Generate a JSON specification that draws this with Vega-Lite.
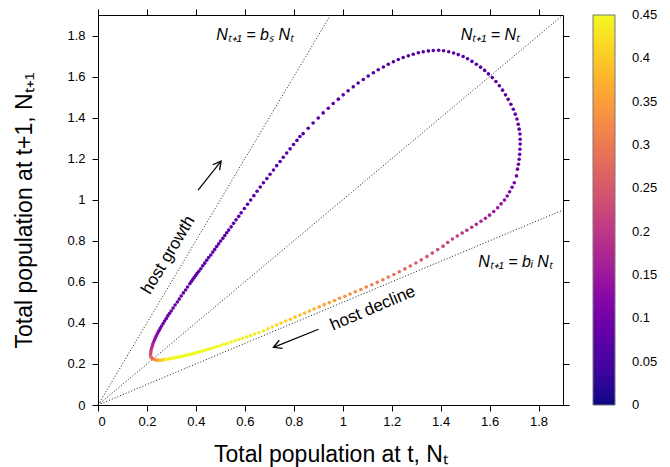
{
  "$schema": "https://vega.github.io/schema/vega-lite/v6.json",
  "width": 465,
  "height": 390,
  "autosize": {"type": "none"},
  "padding": {"left": 98, "top": 15, "right": 107, "bottom": 62},
  "background": "white",
  "config": {
    "font": "Liberation Sans",
    "view": {"stroke": "black", "strokeWidth": 1},
    "axis": {
      "labelFont": "Liberation Sans", "labelFontSize": 13, "labelColor": "black",
      "titleFont": "Liberation Sans", "titleFontSize": 23, "titleFontWeight": "normal", "titleColor": "black",
      "tickColor": "black", "tickSize": 6, "tickWidth": 1, "domainColor": "black", "grid": false, "labelPadding": 4
    }
  },
  "datasets": {
    "lines": [
      {"x": 0, "y": 0, "x2": 0.95, "y2": 1.9},
      {"x": 0, "y": 0, "x2": 1.9, "y2": 1.9},
      {"x": 0, "y": 0, "x2": 1.9, "y2": 0.95}
    ],
    "labels": [
      {"x": 0.642, "y": 1.802, "t": "Nₜ₊₁ = bₛ Nₜ"},
      {"x": 1.603, "y": 1.802, "t": "Nₜ₊₁ = Nₜ"},
      {"x": 1.706, "y": 0.698, "t": "Nₜ₊₁ = bᵢ Nₜ"}
    ],
    "curve": [
      {"x":0.215,"y":0.239,"c":0.26},{"x":0.215,"y":0.248,"c":0.24},{"x":0.216,"y":0.258,"c":0.225},{"x":0.217,"y":0.268,"c":0.21},
      {"x":0.219,"y":0.278,"c":0.195},{"x":0.222,"y":0.287,"c":0.18},{"x":0.224,"y":0.297,"c":0.168},{"x":0.227,"y":0.307,"c":0.157},
      {"x":0.231,"y":0.317,"c":0.147},{"x":0.234,"y":0.326,"c":0.138},{"x":0.238,"y":0.336,"c":0.13},{"x":0.242,"y":0.346,"c":0.123},
      {"x":0.246,"y":0.356,"c":0.117},{"x":0.251,"y":0.365,"c":0.112},{"x":0.255,"y":0.375,"c":0.107},{"x":0.260,"y":0.385,"c":0.103},
      {"x":0.266,"y":0.397,"c":0.099},{"x":0.272,"y":0.409,"c":0.096},{"x":0.279,"y":0.421,"c":0.093},{"x":0.285,"y":0.434,"c":0.091},
      {"x":0.292,"y":0.446,"c":0.090},{"x":0.299,"y":0.458,"c":0.089},{"x":0.307,"y":0.472,"c":0.088},{"x":0.315,"y":0.487,"c":0.087},
      {"x":0.324,"y":0.502,"c":0.086},{"x":0.332,"y":0.516,"c":0.085},{"x":0.340,"y":0.531,"c":0.084},{"x":0.349,"y":0.546,"c":0.083},
      {"x":0.358,"y":0.560,"c":0.082},{"x":0.366,"y":0.575,"c":0.081},
      {"x":0.375,"y":0.591,"c":0.080},{"x":0.381,"y":0.601,"c":0.080},{"x":0.387,"y":0.611,"c":0.079},{"x":0.393,"y":0.621,"c":0.079},
      {"x":0.399,"y":0.631,"c":0.079},{"x":0.405,"y":0.641,"c":0.078},{"x":0.412,"y":0.651,"c":0.078},{"x":0.420,"y":0.664,"c":0.078},
      {"x":0.428,"y":0.678,"c":0.077},{"x":0.436,"y":0.691,"c":0.077},{"x":0.444,"y":0.705,"c":0.077},{"x":0.452,"y":0.718,"c":0.076},
      {"x":0.461,"y":0.731,"c":0.076},{"x":0.469,"y":0.745,"c":0.076},{"x":0.477,"y":0.758,"c":0.076},{"x":0.485,"y":0.772,"c":0.075},
      {"x":0.493,"y":0.785,"c":0.075},{"x":0.501,"y":0.799,"c":0.075},{"x":0.510,"y":0.812,"c":0.075},{"x":0.518,"y":0.826,"c":0.074},
      {"x":0.526,"y":0.839,"c":0.074},{"x":0.534,"y":0.852,"c":0.074},{"x":0.544,"y":0.868,"c":0.074},{"x":0.554,"y":0.885,"c":0.073},
      {"x":0.564,"y":0.902,"c":0.073},{"x":0.575,"y":0.919,"c":0.073},
      {"x":0.585,"y":0.936,"c":0.073},{"x":0.598,"y":0.957,"c":0.072},{"x":0.611,"y":0.978,"c":0.072},{"x":0.624,"y":0.999,"c":0.072},
      {"x":0.637,"y":1.020,"c":0.072},{"x":0.650,"y":1.041,"c":0.071},{"x":0.663,"y":1.062,"c":0.071},{"x":0.676,"y":1.083,"c":0.071},
      {"x":0.690,"y":1.103,"c":0.071},{"x":0.703,"y":1.124,"c":0.070},{"x":0.717,"y":1.145,"c":0.070},{"x":0.730,"y":1.166,"c":0.070},
      {"x":0.744,"y":1.186,"c":0.070},{"x":0.757,"y":1.207,"c":0.070},{"x":0.771,"y":1.228,"c":0.069},{"x":0.785,"y":1.248,"c":0.069},
      {"x":0.799,"y":1.269,"c":0.069},{"x":0.813,"y":1.289,"c":0.069},{"x":0.825,"y":1.308,"c":0.069},
      {"x":0.838,"y":1.322,"c":0.069},{"x":0.859,"y":1.348,"c":0.069},{"x":0.879,"y":1.374,"c":0.068},{"x":0.900,"y":1.398,"c":0.068},
      {"x":0.920,"y":1.423,"c":0.068},{"x":0.941,"y":1.446,"c":0.068},{"x":0.961,"y":1.469,"c":0.067},{"x":0.982,"y":1.490,"c":0.067},
      {"x":1.002,"y":1.511,"c":0.067},{"x":1.022,"y":1.531,"c":0.067},{"x":1.043,"y":1.550,"c":0.066},{"x":1.063,"y":1.569,"c":0.066},
      {"x":1.084,"y":1.586,"c":0.066},{"x":1.104,"y":1.603,"c":0.066},{"x":1.125,"y":1.619,"c":0.065},{"x":1.145,"y":1.633,"c":0.065},
      {"x":1.166,"y":1.647,"c":0.065},{"x":1.186,"y":1.660,"c":0.065},{"x":1.207,"y":1.672,"c":0.065},{"x":1.227,"y":1.683,"c":0.064},
      {"x":1.247,"y":1.693,"c":0.064},{"x":1.268,"y":1.701,"c":0.064},{"x":1.288,"y":1.709,"c":0.064},{"x":1.309,"y":1.716,"c":0.064},
      {"x":1.329,"y":1.721,"c":0.064},{"x":1.350,"y":1.725,"c":0.064},{"x":1.370,"y":1.727,"c":0.064},
      {"x":1.392,"y":1.728,"c":0.064},{"x":1.412,"y":1.726,"c":0.064},{"x":1.433,"y":1.721,"c":0.065},{"x":1.453,"y":1.715,"c":0.065},
      {"x":1.472,"y":1.707,"c":0.065},{"x":1.492,"y":1.698,"c":0.066},{"x":1.510,"y":1.687,"c":0.066},{"x":1.528,"y":1.674,"c":0.067},
      {"x":1.546,"y":1.660,"c":0.067},{"x":1.563,"y":1.646,"c":0.068},{"x":1.580,"y":1.630,"c":0.068},{"x":1.595,"y":1.613,"c":0.069},
      {"x":1.611,"y":1.595,"c":0.070},{"x":1.626,"y":1.576,"c":0.071},{"x":1.640,"y":1.555,"c":0.072},{"x":1.653,"y":1.534,"c":0.073},
      {"x":1.665,"y":1.511,"c":0.074},{"x":1.676,"y":1.489,"c":0.075},{"x":1.687,"y":1.465,"c":0.076},{"x":1.697,"y":1.441,"c":0.077},
      {"x":1.705,"y":1.417,"c":0.078},{"x":1.712,"y":1.393,"c":0.079},{"x":1.717,"y":1.368,"c":0.080},{"x":1.721,"y":1.344,"c":0.081},
      {"x":1.724,"y":1.320,"c":0.082},{"x":1.725,"y":1.295,"c":0.084},{"x":1.725,"y":1.271,"c":0.086},
      {"x":1.724,"y":1.246,"c":0.088},{"x":1.723,"y":1.221,"c":0.091},{"x":1.721,"y":1.197,"c":0.094},{"x":1.718,"y":1.173,"c":0.097},
      {"x":1.714,"y":1.149,"c":0.100},{"x":1.710,"y":1.116,"c":0.104},{"x":1.701,"y":1.083,"c":0.109},{"x":1.692,"y":1.061,"c":0.113},
      {"x":1.682,"y":1.039,"c":0.118},{"x":1.672,"y":1.018,"c":0.124},{"x":1.661,"y":0.999,"c":0.130},{"x":1.647,"y":0.980,"c":0.137},
      {"x":1.633,"y":0.961,"c":0.144},{"x":1.617,"y":0.943,"c":0.151},{"x":1.600,"y":0.925,"c":0.158},{"x":1.583,"y":0.910,"c":0.165},
      {"x":1.565,"y":0.895,"c":0.172},{"x":1.546,"y":0.880,"c":0.179},{"x":1.527,"y":0.866,"c":0.186},{"x":1.507,"y":0.851,"c":0.193},
      {"x":1.488,"y":0.838,"c":0.200},{"x":1.468,"y":0.823,"c":0.207},{"x":1.448,"y":0.809,"c":0.214},{"x":1.429,"y":0.792,"c":0.221},
      {"x":1.410,"y":0.774,"c":0.228},
      {"x":1.388,"y":0.757,"c":0.234},{"x":1.366,"y":0.740,"c":0.241},{"x":1.344,"y":0.723,"c":0.248},{"x":1.321,"y":0.707,"c":0.254},
      {"x":1.299,"y":0.692,"c":0.260},{"x":1.276,"y":0.677,"c":0.267},{"x":1.254,"y":0.663,"c":0.274},{"x":1.231,"y":0.649,"c":0.280},
      {"x":1.209,"y":0.636,"c":0.287},{"x":1.186,"y":0.623,"c":0.294},{"x":1.164,"y":0.610,"c":0.300},{"x":1.141,"y":0.598,"c":0.306},
      {"x":1.119,"y":0.586,"c":0.311},{"x":1.096,"y":0.575,"c":0.316},{"x":1.074,"y":0.563,"c":0.322},{"x":1.051,"y":0.552,"c":0.327},
      {"x":1.030,"y":0.541,"c":0.333},{"x":1.009,"y":0.530,"c":0.338},{"x":0.987,"y":0.520,"c":0.343},{"x":0.966,"y":0.509,"c":0.349},
      {"x":0.945,"y":0.499,"c":0.355},{"x":0.924,"y":0.489,"c":0.360},{"x":0.904,"y":0.478,"c":0.366},{"x":0.883,"y":0.468,"c":0.372},
      {"x":0.864,"y":0.458,"c":0.378},{"x":0.844,"y":0.448,"c":0.384},{"x":0.825,"y":0.438,"c":0.390},{"x":0.805,"y":0.428,"c":0.396},
      {"x":0.786,"y":0.418,"c":0.402},{"x":0.767,"y":0.409,"c":0.407},{"x":0.748,"y":0.399,"c":0.412},{"x":0.730,"y":0.390,"c":0.417},
      {"x":0.712,"y":0.380,"c":0.422},{"x":0.694,"y":0.371,"c":0.426},{"x":0.676,"y":0.362,"c":0.430},{"x":0.658,"y":0.353,"c":0.434},
      {"x":0.640,"y":0.346,"c":0.437},{"x":0.623,"y":0.338,"c":0.440},{"x":0.607,"y":0.331,"c":0.442},{"x":0.590,"y":0.325,"c":0.444},
      {"x":0.574,"y":0.319,"c":0.445},{"x":0.559,"y":0.313,"c":0.446},{"x":0.544,"y":0.307,"c":0.447},{"x":0.529,"y":0.301,"c":0.448},
      {"x":0.515,"y":0.296,"c":0.449},{"x":0.501,"y":0.290,"c":0.449},{"x":0.487,"y":0.285,"c":0.45},{"x":0.474,"y":0.280,"c":0.45},
      {"x":0.461,"y":0.275,"c":0.45},{"x":0.449,"y":0.271,"c":0.45},{"x":0.437,"y":0.267,"c":0.45},{"x":0.426,"y":0.263,"c":0.45},
      {"x":0.415,"y":0.259,"c":0.45},{"x":0.404,"y":0.255,"c":0.45},{"x":0.394,"y":0.252,"c":0.45},{"x":0.384,"y":0.249,"c":0.45},
      {"x":0.375,"y":0.246,"c":0.45},{"x":0.366,"y":0.244,"c":0.45},{"x":0.357,"y":0.241,"c":0.45},{"x":0.348,"y":0.239,"c":0.45},
      {"x":0.339,"y":0.236,"c":0.45},{"x":0.330,"y":0.234,"c":0.45},{"x":0.322,"y":0.232,"c":0.45},{"x":0.314,"y":0.230,"c":0.449},
      {"x":0.306,"y":0.228,"c":0.449},{"x":0.299,"y":0.227,"c":0.448},{"x":0.291,"y":0.225,"c":0.447},{"x":0.284,"y":0.223,"c":0.445},
      {"x":0.277,"y":0.222,"c":0.44},{"x":0.270,"y":0.221,"c":0.43},{"x":0.263,"y":0.219,"c":0.415},{"x":0.257,"y":0.218,"c":0.40},
      {"x":0.251,"y":0.218,"c":0.385},{"x":0.245,"y":0.218,"c":0.37},{"x":0.239,"y":0.219,"c":0.355},{"x":0.233,"y":0.220,"c":0.34},
      {"x":0.228,"y":0.223,"c":0.325},{"x":0.223,"y":0.225,"c":0.31},{"x":0.220,"y":0.228,"c":0.295},{"x":0.217,"y":0.232,"c":0.28}
    ]
  },
  "layer": [
    {
      "data": {"name": "lines"},
      "mark": {"type": "rule", "color": "black", "strokeWidth": 0.9, "strokeDash": [1, 2]},
      "encoding": {
        "x": {"field": "x", "type": "quantitative", "scale": {"domain": [0, 1.9], "nice": false, "zero": false},
              "axis": {"orient": "top", "labels": false, "title": null, "domain": false, "values": [0,0.2,0.4,0.6,0.8,1,1.2,1.4,1.6,1.8]}},
        "y": {"field": "y", "type": "quantitative", "scale": {"domain": [0, 1.9], "nice": false, "zero": false},
              "axis": {"orient": "right", "labels": false, "title": null, "domain": false, "values": [0,0.2,0.4,0.6,0.8,1,1.2,1.4,1.6,1.8]}},
        "x2": {"field": "x2"},
        "y2": {"field": "y2"}
      }
    },
    {
      "data": {"name": "curve"},
      "mark": {"type": "circle", "size": 13, "opacity": 1},
      "encoding": {
        "x": {"field": "x", "type": "quantitative", "scale": {"domain": [0, 1.9], "nice": false, "zero": false},
              "axis": {"orient": "bottom", "title": "Total population at t, Nₜ", "domain": false, "format": "~g", "titlePadding": 15, "values": [0,0.2,0.4,0.6,0.8,1,1.2,1.4,1.6,1.8]}},
        "y": {"field": "y", "type": "quantitative", "scale": {"domain": [0, 1.9], "nice": false, "zero": false},
              "axis": {"orient": "left", "title": "Total population at t+1, Nₜ₊₁", "domain": false, "format": "~g", "labelPadding": 7, "titlePadding": 30, "values": [0,0.2,0.4,0.6,0.8,1,1.2,1.4,1.6,1.8]}},
        "color": {"field": "c", "type": "quantitative", "scale": {"scheme": "plasma", "domain": [0, 0.45]},
                  "legend": {"orient": "none", "legendX": 495, "legendY": 0, "direction": "vertical", "title": null,
                             "gradientLength": 390, "gradientThickness": 22, "values": [0.0002,0.05,0.1,0.15,0.2,0.25,0.3,0.35,0.4,0.4498],
                             "format": ".2~f", "labelFontSize": 13, "labelColor": "black", "labelFont": "Liberation Sans", "labelOffset": 17,
                             "labelBaseline": "middle", "labelOverlap": false, "gradientStrokeColor": "#777", "gradientStrokeWidth": 1, "padding": 0}}
      }
    },
    {
      "data": {"name": "labels"},
      "mark": {"type": "text", "font": "Liberation Sans", "fontSize": 16, "fontStyle": "italic", "align": "center", "baseline": "middle", "color": "black"},
      "encoding": {
        "x": {"field": "x", "type": "quantitative", "scale": {"domain": [0, 1.9], "nice": false}, "axis": null},
        "y": {"field": "y", "type": "quantitative", "scale": {"domain": [0, 1.9], "nice": false}, "axis": null},
        "text": {"field": "t"}
      }
    },
    {
      "data": {"values": [{"x": 0.287, "y": 0.731, "t": "host growth"}]},
      "mark": {"type": "text", "font": "Liberation Sans", "fontSize": 17, "angle": 301, "align": "center", "baseline": "middle", "color": "black"},
      "encoding": {
        "x": {"field": "x", "type": "quantitative", "axis": null},
        "y": {"field": "y", "type": "quantitative", "axis": null},
        "text": {"field": "t"}
      }
    },
    {
      "data": {"values": [{"x": 1.123, "y": 0.471, "t": "host decline"}]},
      "mark": {"type": "text", "font": "Liberation Sans", "fontSize": 17, "angle": 337, "align": "center", "baseline": "middle", "color": "black"},
      "encoding": {
        "x": {"field": "x", "type": "quantitative", "axis": null},
        "y": {"field": "y", "type": "quantitative", "axis": null},
        "text": {"field": "t"}
      }
    },
    {
      "data": {"values": [{"x": 0.409, "y": 1.047, "x2": 0.503, "y2": 1.188}, {"x": 0.901, "y": 0.369, "x2": 0.717, "y2": 0.281}]},
      "mark": {"type": "rule", "color": "black", "strokeWidth": 1.2},
      "encoding": {
        "x": {"field": "x", "type": "quantitative", "axis": null},
        "y": {"field": "y", "type": "quantitative", "axis": null},
        "x2": {"field": "x2"},
        "y2": {"field": "y2"}
      }
    },
    {
      "data": {"values": [{"x": 0.503, "y": 1.188}]},
      "mark": {"type": "point", "shape": "M-1,-0.55L0,0L-1,0.55", "size": 256, "filled": false, "stroke": "black", "strokeWidth": 1.3, "angle": 308, "opacity": 1},
      "encoding": {
        "x": {"field": "x", "type": "quantitative", "axis": null},
        "y": {"field": "y", "type": "quantitative", "axis": null}
      }
    },
    {
      "data": {"values": [{"x": 0.717, "y": 0.281}]},
      "mark": {"type": "point", "shape": "M-1,-0.55L0,0L-1,0.55", "size": 256, "filled": false, "stroke": "black", "strokeWidth": 1.3, "angle": 158, "opacity": 1},
      "encoding": {
        "x": {"field": "x", "type": "quantitative", "axis": null},
        "y": {"field": "y", "type": "quantitative", "axis": null}
      }
    }
  ],
  "resolve": {"axis": {"x": "independent", "y": "independent"}}
}
